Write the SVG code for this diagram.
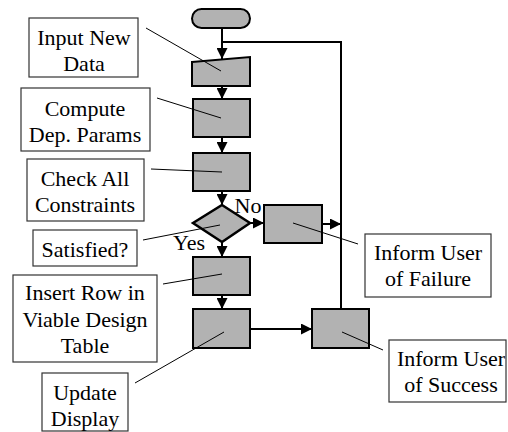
<svg xmlns="http://www.w3.org/2000/svg" width="508" height="432" viewBox="0 0 508 432">
  <defs>
    <marker id="arrow" viewBox="0 0 10 10" refX="10" refY="5" markerWidth="5.5" markerHeight="5.5" orient="auto" markerUnits="strokeWidth">
      <path d="M0,0 L10,5 L0,10 Z" fill="#000"/>
    </marker>
  </defs>
  <rect width="508" height="432" fill="#fff"/>

  <!-- connectors -->
  <g id="connectors" stroke="#000" stroke-width="2" fill="none">
    <line marker-end="url(#arrow)" x1="222" y1="28" x2="222" y2="59"/>
    <polyline points="341,309 341,42 222,42"/>
    <line marker-end="url(#arrow)" x1="222" y1="86" x2="222" y2="99"/>
    <line marker-end="url(#arrow)" x1="222" y1="137" x2="222" y2="153"/>
    <line marker-end="url(#arrow)" x1="222" y1="191" x2="222" y2="205"/>
    <line marker-end="url(#arrow)" x1="222" y1="242" x2="222" y2="257"/>
    <line marker-end="url(#arrow)" x1="222" y1="295" x2="222" y2="309"/>
    <line marker-end="url(#arrow)" x1="250" y1="223" x2="264" y2="223"/>
    <line marker-end="url(#arrow)" x1="322" y1="224" x2="341" y2="224"/>
    <line marker-end="url(#arrow)" x1="250" y1="329" x2="312" y2="329"/>
  </g>

  <!-- flow shapes -->
  <g fill="#b2b2b2" stroke="#000" stroke-width="2">
    <g id="start">
      <rect x="192" y="9" width="58" height="19" rx="9.5"/>
    </g>
    <g id="input-step">
      <polygon points="192,62 250,57 250,86 192,86"/>
    </g>
    <g id="compute-step">
      <rect x="193" y="99" width="57" height="38"/>
    </g>
    <g id="check-step">
      <rect x="193" y="153" width="57" height="38"/>
    </g>
    <g id="decision">
      <polygon stroke-width="2.5" points="222,205 250,223 222,242 193,223"/>
    </g>
    <g id="failure-step">
      <rect x="264" y="205" width="58" height="38"/>
    </g>
    <g id="insert-step">
      <rect x="193" y="257" width="57" height="38"/>
    </g>
    <g id="update-step">
      <rect x="193" y="309" width="57" height="39"/>
    </g>
    <g id="success-step">
      <rect x="312" y="309" width="57" height="39"/>
    </g>
  </g>

  <!-- branch labels -->
  <g id="branch-labels">
    <text x="248" y="213" font-family="Liberation Serif" font-size="22" text-anchor="middle">No</text>
    <text x="189" y="250" font-family="Liberation Serif" font-size="22" text-anchor="middle">Yes</text>
  </g>

  <!-- callouts: leader line, white box, label -->
  <g id="note-input">
    <line stroke="#000" stroke-width="1" x1="146" y1="28" x2="221" y2="71"/>
    <rect fill="#fff" stroke="#333" stroke-width="1.2" x="29" y="18" width="109" height="59"/>
    <text x="84" y="45" font-family="Liberation Serif" font-size="22" text-anchor="middle">Input New</text>
    <text x="84" y="71" font-family="Liberation Serif" font-size="22" text-anchor="middle">Data</text>
  </g>
  <g id="note-compute">
    <line stroke="#000" stroke-width="1" x1="157" y1="98" x2="221" y2="118"/>
    <rect fill="#fff" stroke="#333" stroke-width="1.2" x="21" y="88" width="129" height="63"/>
    <text x="85" y="116" font-family="Liberation Serif" font-size="22" text-anchor="middle">Compute</text>
    <text x="85" y="142" font-family="Liberation Serif" font-size="22" text-anchor="middle">Dep. Params</text>
  </g>
  <g id="note-check">
    <line stroke="#000" stroke-width="1" x1="151" y1="169" x2="222" y2="172"/>
    <rect fill="#fff" stroke="#333" stroke-width="1.2" x="27" y="159" width="117" height="62"/>
    <text x="85" y="186" font-family="Liberation Serif" font-size="22" text-anchor="middle">Check All</text>
    <text x="85" y="212" font-family="Liberation Serif" font-size="22" text-anchor="middle">Constraints</text>
  </g>
  <g id="note-satisfied">
    <line stroke="#000" stroke-width="1" x1="143" y1="240" x2="220" y2="225"/>
    <rect fill="#fff" stroke="#333" stroke-width="1.2" x="33" y="230" width="104" height="36"/>
    <text x="85" y="257" font-family="Liberation Serif" font-size="22" text-anchor="middle">Satisfied?</text>
  </g>
  <g id="note-insert">
    <line stroke="#000" stroke-width="1" x1="163" y1="284" x2="222" y2="274"/>
    <rect fill="#fff" stroke="#333" stroke-width="1.2" x="13" y="275" width="144" height="87"/>
    <text x="85" y="300" font-family="Liberation Serif" font-size="22" text-anchor="middle">Insert Row in</text>
    <text x="85" y="327" font-family="Liberation Serif" font-size="22" text-anchor="middle">Viable Design</text>
    <text x="85" y="353" font-family="Liberation Serif" font-size="22" text-anchor="middle">Table</text>
  </g>
  <g id="note-update">
    <line stroke="#000" stroke-width="1" x1="135" y1="383" x2="224" y2="332"/>
    <rect fill="#fff" stroke="#333" stroke-width="1.2" x="42" y="373" width="86" height="58"/>
    <text x="85" y="400" font-family="Liberation Serif" font-size="22" text-anchor="middle">Update</text>
    <text x="85" y="426" font-family="Liberation Serif" font-size="22" text-anchor="middle">Display</text>
  </g>
  <g id="note-failure">
    <line stroke="#000" stroke-width="1" x1="293" y1="223" x2="358" y2="244"/>
    <rect fill="#fff" stroke="#333" stroke-width="1.2" x="365" y="234" width="126" height="63"/>
    <text x="428" y="260" font-family="Liberation Serif" font-size="22" text-anchor="middle">Inform User</text>
    <text x="428" y="286" font-family="Liberation Serif" font-size="22" text-anchor="middle">of Failure</text>
  </g>
  <g id="note-success">
    <line stroke="#000" stroke-width="1" x1="342" y1="332" x2="383" y2="350"/>
    <rect fill="#fff" stroke="#333" stroke-width="1.2" x="389" y="340" width="117" height="62"/>
    <text x="451" y="366" font-family="Liberation Serif" font-size="22" text-anchor="middle">Inform User</text>
    <text x="451" y="392" font-family="Liberation Serif" font-size="22" text-anchor="middle">of Success</text>
  </g>
</svg>
